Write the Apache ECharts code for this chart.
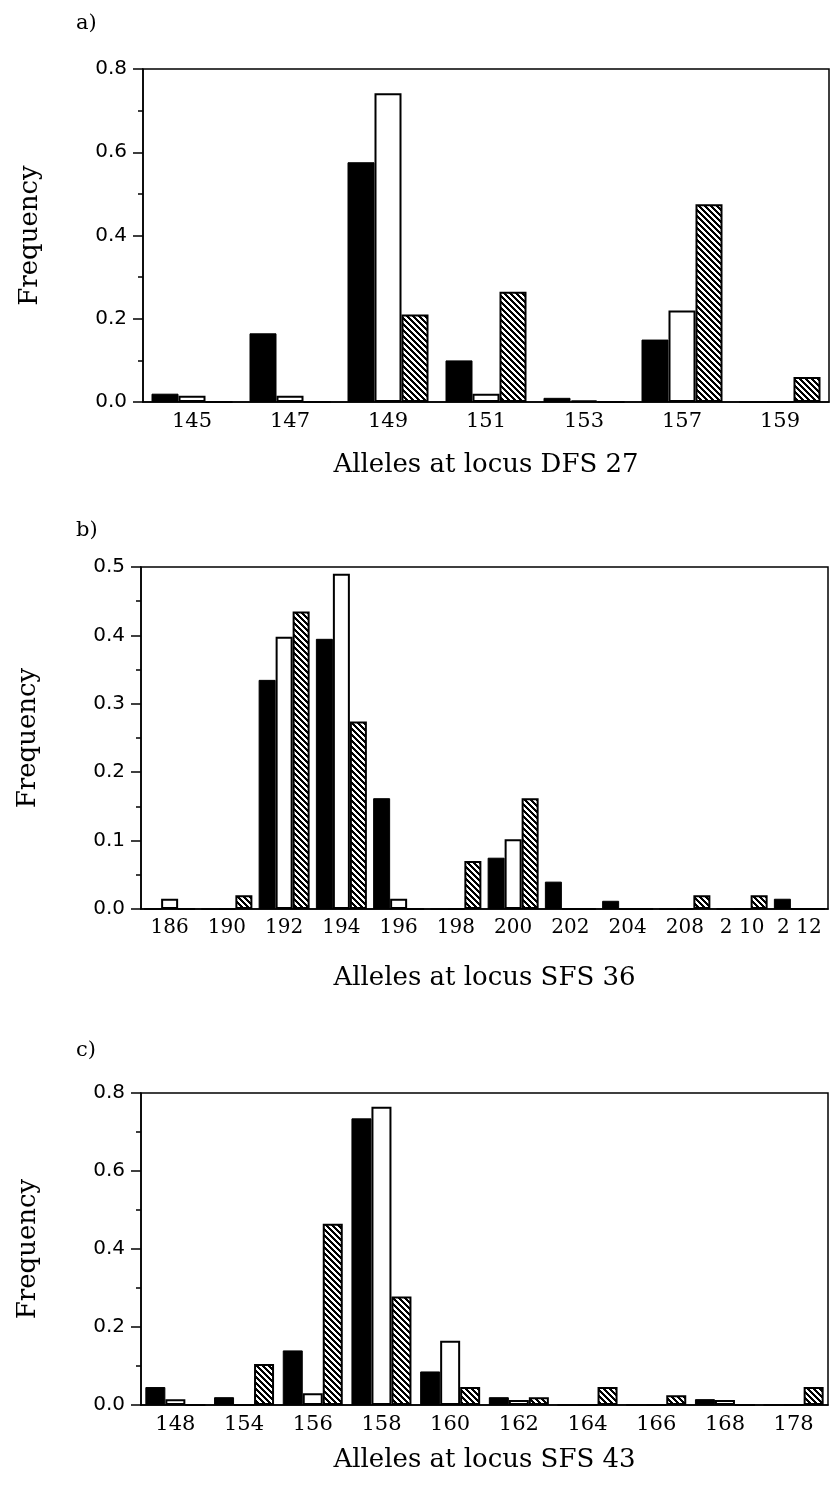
<!DOCTYPE html>
<html>
<head>
<meta charset="utf-8">
<script src="https://cdn.jsdelivr.net/npm/echarts@6/dist/echarts.min.js"></script>
<style>
  html, body { margin: 0; padding: 0; background: #fff; }
  #chart { width: 830px; height: 1490px; }
</style>
</head>
<body>
<div id="chart"></div>
<script>
// a) locus DFS 27
const allelesA = ['145', '147', '149', '151', '153', '157', '159'];
const blackA = [0.02, 0.165, 0.576, 0.10, 0.01, 0.15, 0];
const whiteA = [0.015, 0.015, 0.742, 0.02, 0.004, 0.22, 0];
const hatchA = [0, 0, 0.21, 0.265, 0, 0.475, 0.06];

// b) locus SFS 36
const allelesB = ['186', '190', '192', '194', '196', '198', '200', '202', '204', '208', '2 10', '2 12'];
const blackB = [0, 0, 0.335, 0.395, 0.162, 0, 0.075, 0.04, 0.012, 0, 0, 0.015];
const whiteB = [0.015, 0, 0.398, 0.49, 0.015, 0, 0.102, 0, 0, 0, 0, 0];
const hatchB = [0, 0.02, 0.435, 0.274, 0, 0.07, 0.162, 0, 0, 0.02, 0.02, 0];

// c) locus SFS 43
const allelesC = ['148', '154', '156', '158', '160', '162', '164', '166', '168', '178'];
const blackC = [0.046, 0.02, 0.14, 0.735, 0.086, 0.02, 0, 0, 0.015, 0];
const whiteC = [0.015, 0, 0.03, 0.765, 0.165, 0.013, 0, 0, 0.013, 0];
const hatchC = [0, 0.105, 0.465, 0.278, 0.046, 0.02, 0.046, 0.025, 0, 0.046];

const axisNames = ['Alleles at locus DFS 27', 'Alleles at locus SFS 36', 'Alleles at locus SFS 43'];
const panelLabels = ['a)', 'b)', 'c)'];

// diagonal hatch fill
function makeHatch() {
  const c = document.createElement('canvas');
  c.width = 6;
  c.height = 6;
  const ctx = c.getContext('2d');
  ctx.fillStyle = '#fff';
  ctx.fillRect(0, 0, 6, 6);
  ctx.fillStyle = '#000';
  for (let i = 0; i < 6; i++) {
    ctx.fillRect(i, i, 3, 1);
    if (i > 3) ctx.fillRect(i - 6, i, 3, 1);
  }
  return c;
}
const hatch = { image: makeHatch(), repeat: 'repeat' };

const serif = 'DejaVu Serif';
const sans = 'DejaVu Sans';

const grids = [
  { left: 143, top: 69, width: 686, height: 333 },
  { left: 141, top: 567, width: 687, height: 342 },
  { left: 141, top: 1093, width: 687, height: 312 }
];
const yMax = [0.8, 0.5, 0.8];
const yStep = [0.2, 0.1, 0.2];
const barW = [27, 17, 20];
const nameGaps = [50, 56, 42];
const labelTops = [8, 515, 1035];
const tickFont = [21, 20, 21];
const cats = [allelesA, allelesB, allelesC];
const data = [
  [blackA, whiteA, hatchA],
  [blackB, whiteB, hatchB],
  [blackC, whiteC, hatchC]
];

const chart = echarts.init(document.getElementById('chart'));

const series = [];
data.forEach((set, k) => {
  const styles = [
    { color: '#000', borderColor: '#000', borderWidth: 1 },
    { color: '#fff', borderColor: '#000', borderWidth: 2 },
    { color: hatch, borderColor: '#000', borderWidth: 2 }
  ];
  set.forEach((vals, j) => {
    series.push({
      type: 'bar',
      xAxisIndex: k,
      yAxisIndex: k,
      data: vals,
      barWidth: barW[k],
      barGap: '0%',
      itemStyle: styles[j]
    });
  });
});

chart.setOption({
  animation: false,
  backgroundColor: '#fff',
  title: panelLabels.map((t, k) => ({
    text: t,
    left: 71,
    top: labelTops[k],
    textStyle: { fontFamily: serif, fontWeight: 'normal', fontSize: 21, color: '#000' }
  })),
  grid: grids.map(g => Object.assign({ show: true, borderColor: '#000', borderWidth: 1.5 }, g)),
  xAxis: cats.map((c, k) => ({
    type: 'category',
    gridIndex: k,
    data: c,
    name: axisNames[k],
    nameLocation: 'middle',
    nameGap: nameGaps[k],
    nameTextStyle: { fontFamily: serif, fontSize: 26, color: '#000' },
    axisLine: { lineStyle: { color: '#000', width: 1.5 } },
    axisTick: { length: 7, interval: 0, lineStyle: { color: '#000', width: 1.5 } },
    axisLabel: { interval: 0, fontFamily: serif, fontSize: tickFont[k], color: '#000', margin: 9 }
  })),
  yAxis: yMax.map((m, k) => ({
    type: 'value',
    gridIndex: k,
    min: 0,
    max: m,
    interval: yStep[k],
    name: 'Frequency',
    nameLocation: 'middle',
    nameGap: 100,
    nameTextStyle: { fontFamily: serif, fontSize: 26, color: '#000' },
    splitLine: { show: false },
    axisLine: { show: true, lineStyle: { color: '#000', width: 1.5 } },
    axisTick: { show: true, length: 10, lineStyle: { color: '#000', width: 1.5 } },
    minorTick: { show: true, splitNumber: 2, length: 5, lineStyle: { color: '#000', width: 1.5 } },
    axisLabel: {
      fontFamily: sans,
      fontSize: 20,
      color: '#000',
      margin: 16,
      formatter: v => v.toFixed(1)
    }
  })),
  series: series
});
</script>
</body>
</html>
